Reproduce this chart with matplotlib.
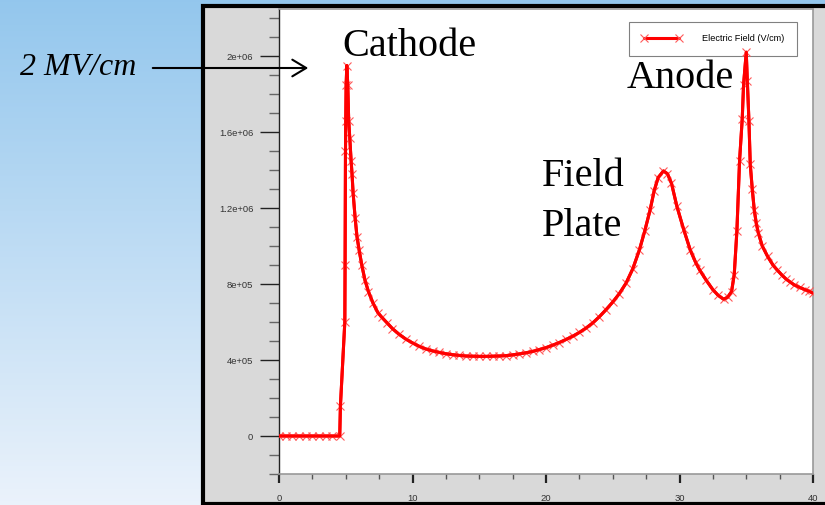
#!/usr/bin/env python3

import numpy as np
import matplotlib.pyplot as plt
from matplotlib.patches import Rectangle, FancyArrowPatch
from matplotlib.ticker import MultipleLocator

# distance (um) and electric field (V/cm)
distance = [0.0, 0.5, 1.0, 1.5, 2.0, 2.5, 3.0, 3.5, 4.0, 4.55,
            4.6, 4.93, 4.95, 4.98, 5.0, 5.03, 5.08, 5.15, 5.22, 5.3,
            5.4, 5.47, 5.55, 5.7, 5.84, 6.0, 6.2, 6.44, 6.7, 7.04,
            7.4, 7.7, 8.1, 8.5, 9.0, 9.5, 10.0, 10.5, 11.0, 11.5,
            12.0, 12.5, 13.0, 13.5, 14.0, 14.5, 15.0, 15.5, 16.0, 16.5,
            17.0, 17.5, 18.0, 18.5, 19.0, 19.5, 20.0, 20.5, 21.0, 21.5,
            22.0, 22.5, 23.0, 23.5, 24.0, 24.5, 25.0, 25.5, 26.0, 26.5,
            27.0, 27.4, 27.8, 28.1, 28.4, 28.8, 29.1, 29.4, 29.8, 30.3,
            30.8, 31.2, 31.5, 32.0, 32.5, 32.9, 33.3, 33.6, 33.9, 34.1,
            34.3, 34.5, 34.7, 34.8, 35.0, 35.08, 35.2, 35.3, 35.45, 35.6,
            35.75, 35.9, 36.2, 36.6, 37.0, 37.3, 37.7, 38.0, 38.3, 38.6,
            39.0, 39.4, 39.7, 40.0]
field = [0, 0, 0, 0, 0, 0, 0, 0, 0, 0,
         0.157e6, 0.60e6, 0.90e6, 1.50e6, 1.66e6, 1.85e6, 1.95e6, 1.85e6, 1.66e6, 1.57e6,
         1.45e6, 1.38e6, 1.28e6, 1.15e6, 1.05e6, 0.98e6, 0.90e6, 0.82e6, 0.76e6, 0.70e6,
         0.65e6, 0.625e6, 0.595e6, 0.565e6, 0.535e6, 0.51e6, 0.49e6, 0.472e6, 0.458e6, 0.448e6,
         0.44e6, 0.433e6, 0.428e6, 0.424e6, 0.421e6, 0.42e6, 0.419e6, 0.419e6, 0.42e6, 0.421e6,
         0.423e6, 0.427e6, 0.432e6, 0.438e6, 0.445e6, 0.455e6, 0.465e6, 0.478e6, 0.492e6, 0.508e6,
         0.525e6, 0.545e6, 0.568e6, 0.595e6, 0.628e6, 0.665e6, 0.705e6, 0.75e6, 0.805e6, 0.88e6,
         0.98e6, 1.08e6, 1.19e6, 1.29e6, 1.36e6, 1.395e6, 1.38e6, 1.33e6, 1.21e6, 1.09e6,
         0.98e6, 0.915e6, 0.875e6, 0.82e6, 0.77e6, 0.74e6, 0.72e6, 0.73e6, 0.76e6, 0.85e6,
         1.08e6, 1.45e6, 1.67e6, 1.85e6, 2.02e6, 1.87e6, 1.66e6, 1.43e6, 1.30e6, 1.19e6,
         1.12e6, 1.07e6, 1.00e6, 0.945e6, 0.90e6, 0.875e6, 0.845e6, 0.825e6, 0.81e6, 0.795e6,
         0.782e6, 0.77e6, 0.762e6, 0.752e6]

yticks = [0, 4e5, 8e5, 1.2e6, 1.6e6, 2e6]
ytick_labels = ['0', '4e+05', '8e+05', '1.2e+06', '1.6e+06', '2e+06']
xticks = [0, 10, 20, 30, 40]

W, H = 825, 505
fig = plt.figure(figsize=(W / 100, H / 100), dpi=100)

# blue slide background
bg = fig.add_axes([0, 0, 1, 1], zorder=0)
grad = np.linspace(0, 1, 256)[:, None, None]
top = np.array([0.58, 0.78, 0.93])
bot = np.array([0.92, 0.95, 0.985])
img = top + (bot - top) * grad
bg.imshow(np.repeat(img, 2, axis=1), aspect='auto', extent=[0, 1, 0, 1])
bg.axis('off')

# gray plot window with black frame
win = Rectangle((203 / W, 1.5 / H), 640 / W, 498 / H, transform=fig.transFigure,
                facecolor='#d9d9d9', edgecolor='black', lw=3.0, zorder=0.5)
fig.add_artist(win)

ax = fig.add_axes([279 / W, 31 / H, 534 / W, 465.5 / H], zorder=1)
ax.plot(distance, field, color='red', lw=2.2, marker='x', ms=5.5,
        mec='#ff5a5a', mew=0.8, label='Electric Field (V/cm)', zorder=3)
ax.plot(distance, field, color='red', lw=2.2, zorder=4)
ax.set_xlim(0, 40)
ax.set_ylim(-2e5, 2.25e6)

ax.set_xticks(xticks)
ax.xaxis.set_minor_locator(MultipleLocator(2.5))
ax.set_yticks(yticks)
ax.set_yticklabels(ytick_labels)
ax.yaxis.set_minor_locator(MultipleLocator(1e5))
ax.tick_params(axis='y', which='major', length=13.5, width=1, color='#222',
               labelsize=6.8, labelcolor='#333', pad=5)
ax.tick_params(axis='y', which='minor', length=7, width=1, color='#666')
ax.tick_params(axis='x', which='major', length=6.5, width=1.6, color='#222',
               labelsize=6.8, labelcolor='#333', pad=8)
ax.tick_params(axis='x', which='minor', length=3.6, width=1, color='#555')
for lab in ax.get_xticklabels() + ax.get_yticklabels():
    lab.set_family('Liberation Sans')
for side in ['top', 'right', 'bottom']:
    ax.spines[side].set_color('#999999')
    ax.spines[side].set_linewidth(1.2)
ax.spines['left'].set_color('#222')
ax.spines['left'].set_linewidth(1)

leg = ax.legend(loc='upper right', bbox_to_anchor=(0.970, 0.971), numpoints=2,
                handlelength=4.4, handletextpad=2.3, borderpad=1.35,
                borderaxespad=0, fancybox=False, framealpha=1, edgecolor='#808080',
                prop={'family': 'Liberation Sans', 'size': 6.6})
leg.get_frame().set_linewidth(0.8)
leg.set_zorder(2)

serif = 'Liberation Serif'
fig.text(342 / W, 1 - 56 / H, 'Cathode', family=serif, size=29, va='baseline')
fig.text(627 / W, 1 - 88 / H, 'Anode', family=serif, size=29, va='baseline')
fig.text(542 / W, 1 - 186 / H, 'Field', family=serif, size=29, va='baseline')
fig.text(542 / W, 1 - 236 / H, 'Plate', family=serif, size=29, va='baseline')
fig.text(20 / W, 1 - 75 / H, '2 MV/cm', family=serif, style='italic', size=23,
         va='baseline')

arrow = FancyArrowPatch((150 / W, 1 - 68 / H), (311 / W, 1 - 68 / H),
                        transform=fig.transFigure, color='black', lw=1.5,
                        arrowstyle='->,head_length=0.5,head_width=0.3',
                        mutation_scale=20, zorder=5)
fig.add_artist(arrow)

plt.savefig('out.png', dpi=100)
